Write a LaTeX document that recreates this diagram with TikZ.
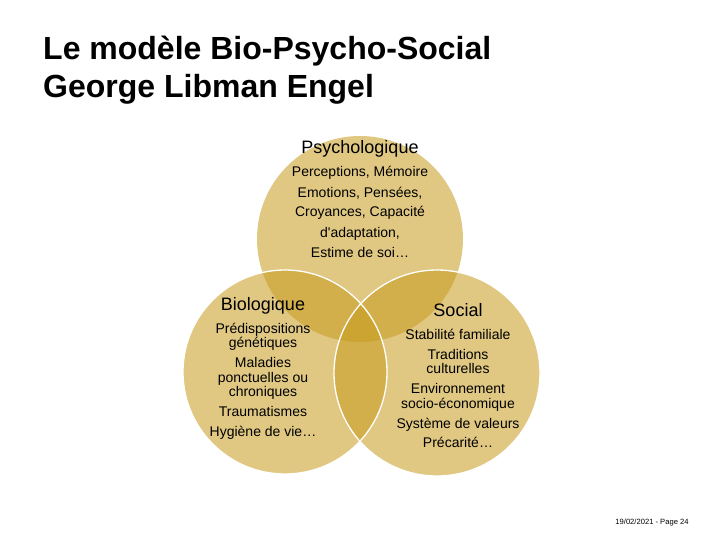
\documentclass[tikz,border=0pt]{standalone}
\usepackage{fontspec}
\setmainfont{Liberation Sans}
\begin{document}
\begin{tikzpicture}[x=1pt,y=-1pt,
  circ/.style={fill={rgb,255:red,200;green,155;blue,30},fill opacity=0.55},
  rim/.style={draw=white,line width=1.3pt},
  head/.style={font=\fontsize{18}{18}\selectfont,inner sep=0pt,anchor=base},
  item/.style={font=\fontsize{14}{14}\selectfont,inner sep=0pt,anchor=base},
  ttl/.style={font=\fontsize{32}{32}\selectfont\bfseries,inner sep=0pt,anchor=base west}]
\useasboundingbox[fill=white] (0,0) rectangle (720,540);
% circles
\fill[circ] (360,239) circle (103);
\fill[circ] (285,372) circle (102);
\fill[circ] (437,373) circle (103);
\draw[rim] (285,372) circle (102);
\draw[rim] (437,373) circle (103);
% title
\node[ttl] (t1) at (43,60) {Le modèle Bio-Psycho-Social};
\node[ttl] (t2) at (43,98) {George Libman Engel};
% psychologique
\node[head] (p0) at (360,154) {Psychologique};
\node[item] (p1) at (360,177) {Perceptions, Mémoire};
\node[item] (p2) at (360,197) {Emotions, Pensées,};
\node[item] (p3) at (360,217) {Croyances, Capacité};
\node[item] (p4) at (360,237) {d\textquotesingle adaptation,};
\node[item] (p5) at (360,257) {Estime de soi\dots};
% biologique
\node[head] (b0) at (263,310) {Biologique};
\node[item] (b1) at (263,333) {Prédispositions};
\node[item] (b2) at (263,347) {génétiques};
\node[item] (b3) at (263,367) {Maladies};
\node[item] (b4) at (263,382) {ponctuelles ou};
\node[item] (b5) at (263,396) {chroniques};
\node[item] (b6) at (263,416) {Traumatismes};
\node[item] (b7) at (263,436) {Hygiène de vie\dots};
% social
\node[head] (s0) at (458,316) {Social};
\node[item] (s1) at (458,339) {Stabilité familiale};
\node[item] (s2) at (458,359) {Traditions};
\node[item] (s3) at (458,373) {culturelles};
\node[item] (s4) at (458,393) {Environnement};
\node[item] (s5) at (458,408) {socio-économique};
\node[item] (s6) at (458,428) {Système de valeurs};
\node[item] (s7) at (458,447) {Précarité\dots};
% footer
\node[font=\fontsize{7.6}{7.6}\selectfont,inner sep=0pt,anchor=base] (f) at (652,524) {19/02/2021 - Page 24};
\end{tikzpicture}
\end{document}
